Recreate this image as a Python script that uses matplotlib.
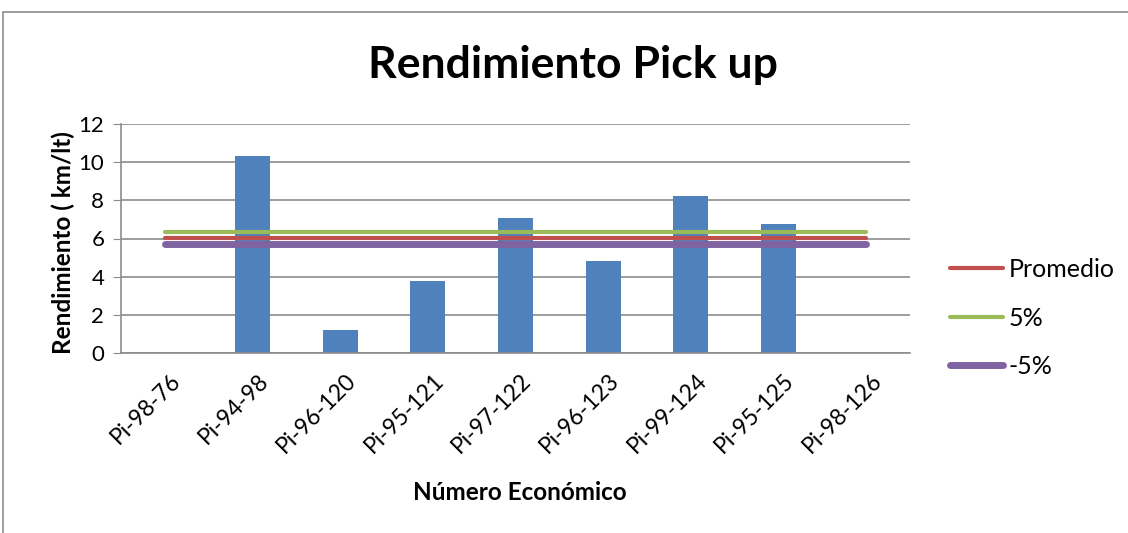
import matplotlib.pyplot as plt
from matplotlib.patches import Rectangle
from matplotlib.transforms import ScaledTranslation

# rendimiento por unidad (km/lt)
unidades = ['Pi-98-76', 'Pi-94-98', 'Pi-96-120', 'Pi-95-121', 'Pi-97-122',
            'Pi-96-123', 'Pi-99-124', 'Pi-95-125', 'Pi-98-126']
rendimiento = [0, 10.3, 1.22, 3.78, 7.09, 4.83, 8.24, 6.76, 0]

promedio = [6.03] * 9
mas_5 = [6.33] * 9
menos_5 = [5.72] * 9

plt.rcParams['font.family'] = ['Lato', 'DejaVu Sans']

W, H = 1128, 533
fig = plt.figure(figsize=(W / 100, H / 100), dpi=100)
ax = fig.add_axes([121 / W, 1 - 353 / H, (910 - 121) / W, (353 - 124) / H])

# marco del grafico
fig.patches.append(Rectangle((3 / W, -0.1), 1.2, 1 - 12 / H + 0.1, transform=fig.transFigure,
                             fill=False, edgecolor='#8c8c8c', linewidth=1.2))

x = range(len(unidades))
ax.bar(x, rendimiento, width=0.4, color='#4F81BD', zorder=2)
ax.plot(x, promedio, color='#C0504D', lw=3, solid_capstyle='round', label='Promedio', zorder=3)
ax.plot(x, mas_5, color='#9BBB59', lw=3, solid_capstyle='round', label='5%', zorder=3)
ax.plot(x, menos_5, color='#8064A2', lw=5, solid_capstyle='round', label='-5%', zorder=3)

ax.set_xlim(-0.5, 8.5)
ax.set_ylim(0, 12)
ax.set_yticks(range(0, 13, 2))
ax.yaxis.grid(True, color='#8c8c8c', lw=1.2, zorder=0)
for s in ['top', 'right']:
    ax.spines[s].set_visible(False)
ax.spines['left'].set_color('#8c8c8c')
ax.spines['bottom'].set_color('#8c8c8c')
ax.spines['left'].set_linewidth(1.2)
ax.spines['bottom'].set_linewidth(1.2)
ax.tick_params(axis='y', length=6, color='#8c8c8c', labelsize=16, pad=6)
ax.tick_params(axis='x', length=0, labelsize=16.5, pad=12)
ax.set_xticks(list(x))
ax.set_xticklabels(unidades, rotation=45, ha='right', rotation_mode='anchor')
shift = ScaledTranslation(5 / 100, 0, fig.dpi_scale_trans)
for lbl in ax.get_xticklabels():
    lbl.set_transform(lbl.get_transform() + shift)

fig.text(573 / W, 1 - 65 / H, 'Rendimiento Pick up', fontsize=32, fontweight='bold',
         ha='center', va='center')
fig.text(63 / W, 1 - 243 / H, 'Rendimiento ( km/lt)', fontsize=17.5, fontweight='bold',
         ha='center', va='center', rotation=90)
fig.text(520 / W, 1 - 493 / H, 'Número Económico', fontsize=17.5, fontweight='bold',
         ha='center', va='center')

ax.legend(loc='upper left', bbox_to_anchor=(950 / W, 1 - 258 / H), bbox_transform=fig.transFigure,
          frameon=False, fontsize=18, handlelength=2.1, handletextpad=0.25, labelspacing=1.02,
          borderaxespad=0, borderpad=0)

fig.savefig('out.png', dpi=100)
